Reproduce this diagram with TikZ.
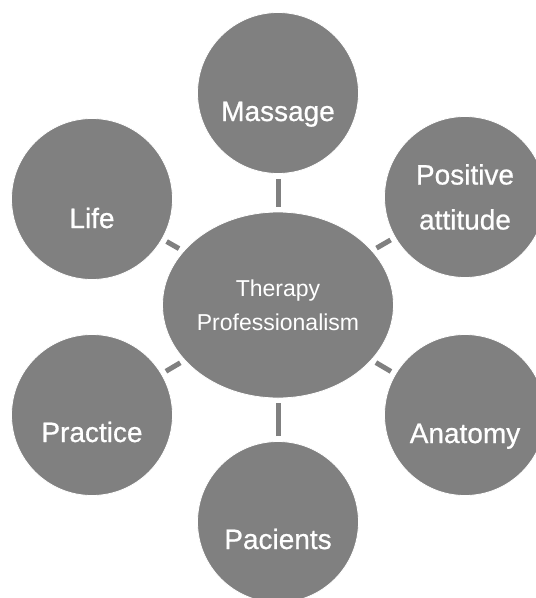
\documentclass[tikz,border=0pt]{standalone}
\usepackage{fontspec}
\setmainfont{Liberation Sans}
\newfontfamily\heavyish[FakeBold=0.7]{Liberation Sans}
\usetikzlibrary{shapes.geometric}
\definecolor{bubblegray}{RGB}{128,128,128}
\begin{document}
\begin{tikzpicture}[x=1pt,y=-1pt,
  bubble/.style={circle,fill=bubblegray,draw=white,line width=0.8pt,minimum size=161pt,inner sep=0pt},
  hub/.style={ellipse,fill=bubblegray,draw=white,line width=0.8pt,minimum width=231pt,minimum height=186pt,inner sep=0pt},
  word/.style={text=white,font=\heavyish\fontsize{28}{45}\selectfont,align=center,inner sep=0pt},
  hubword/.style={text=white,font=\fontsize{23}{34}\selectfont,align=center,inner sep=0pt},
  link/.style={draw=bubblegray,line width=5pt,shorten <=5pt,shorten >=5pt}]
\useasboundingbox (0,0) rectangle (536,598);

% central topic
\node[hub] (hub) at (278,305) {};
\node[hubword] (hubtext) at (hub.center) {Therapy\\Professionalism};

% surrounding topics
\node[bubble] (massage)  at (278,93)  {};
\node[bubble] (positive) at (465,197) {};
\node[bubble] (anatomy)  at (465,415) {};
\node[bubble] (pacients) at (278,522) {};
\node[bubble] (practice) at (92,415)  {};
\node[bubble] (life)     at (92,199)  {};

\node[word,anchor=base] (massagetext)  at ([yshift=-28pt]massage.center)  {Massage};
\node[word]             (positivetext) at (positive.center)               {Positive\\attitude};
\node[word,anchor=base] (anatomytext)  at ([yshift=-28pt]anatomy.center)  {Anatomy};
\node[word,anchor=base] (pacientstext) at ([yshift=-27pt]pacients.center) {Pacients};
\node[word,anchor=base] (practicetext) at ([yshift=-27pt]practice.center) {Practice};
\node[word,anchor=base] (lifetext)     at ([yshift=-29pt]life.center)     {Life};

% short connectors between the hub and each topic
\foreach \t in {massage,positive,anatomy,pacients,practice,life}
  \draw[link] (\t) -- (hub);
\end{tikzpicture}
\end{document}
